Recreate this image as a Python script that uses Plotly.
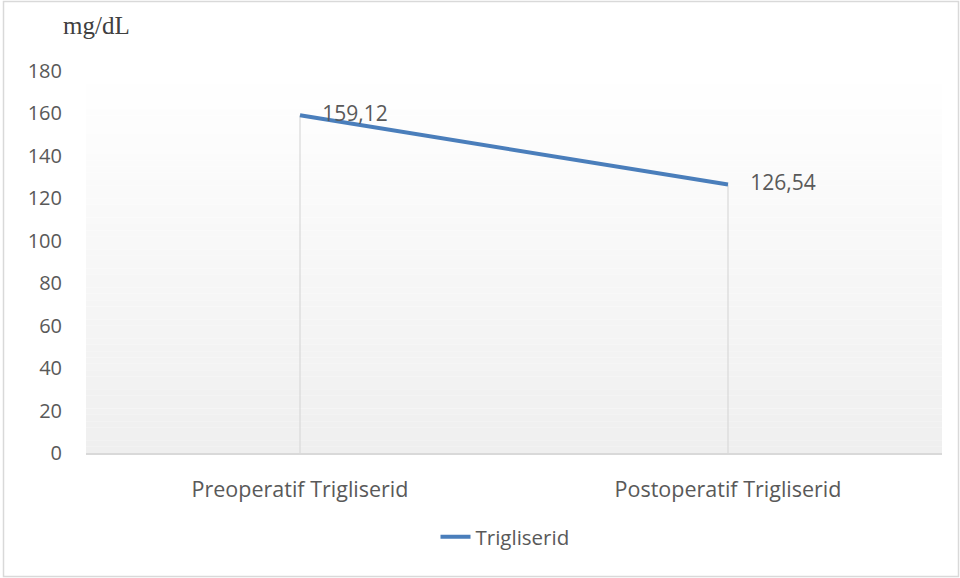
import plotly.graph_objects as go

categories = ["Preoperatif Trigliserid", "Postoperatif Trigliserid"]
values = [159.12, 126.54]
series_name = "Trigliserid"
y_ticks = [0, 20, 40, 60, 80, 100, 120, 140, 160, 180]

W, H = 960, 578
ML, MR, MT, MB = 86, 18, 71, 125
PW, PH = W - ML - MR, H - MT - MB

def px_x(px):
    return (px - ML) / PW

def px_y(py):
    return (H - MB - py) / PH

FONT = "Open Sans"
GREY = "#595959"

fig = go.Figure()
fig.add_trace(go.Scatter(
    x=categories, y=values, name=series_name,
    mode="lines+markers+text",
    line=dict(color="#4a7ebb", width=4),
    marker=dict(size=34, color="rgba(0,0,0,0)"),
    text=[f"{v:.2f}".replace(".", ",") for v in values],
    textposition="middle right",
    textfont=dict(family=FONT, size=21, color=GREY),
    error_y=dict(type="data", symmetric=False, array=[0] * len(values),
                 arrayminus=values, color="#d9d9d9", thickness=1.2, width=0),
    hoverinfo="skip",
))

shapes = []
n = 60
for i in range(n):
    t = i / (n - 1)
    c = int(round(255 - (255 - 239) * t))
    shapes.append(dict(type="rect", xref="x domain", yref="y domain",
                       x0=0, x1=1, y0=1 - (i + 1) / n, y1=1 - i / n,
                       fillcolor=f"rgb({c},{c},{c})", line=dict(width=0),
                       layer="below"))
shapes.append(dict(type="rect", xref="paper", yref="paper",
                   x0=px_x(3.5), x1=px_x(958.5), y0=px_y(576.5), y1=px_y(1.5),
                   line=dict(color="#d9d9d9", width=1.5), fillcolor="rgba(0,0,0,0)",
                   layer="below"))

fig.update_layout(
    width=W, height=H,
    margin=dict(l=ML, r=MR, t=MT, b=MB),
    paper_bgcolor="white", plot_bgcolor="rgba(0,0,0,0)",
    shapes=shapes,
    showlegend=True,
    legend=dict(orientation="h", x=px_x(505), xanchor="center", y=px_y(537), yanchor="middle",
                font=dict(family=FONT, size=20.5, color=GREY),
                bgcolor="rgba(0,0,0,0)"),
    xaxis=dict(type="category", range=[-0.5, 1.5], showgrid=False,
               showline=True, linecolor="#d9d9d9", linewidth=1.5,
               ticks="", ticklabelstandoff=16,
               tickfont=dict(family=FONT, size=21.5, color=GREY), fixedrange=True),
    yaxis=dict(range=[0, 180], tickvals=y_ticks, showgrid=False, zeroline=False,
               showline=False, ticks="", ticklabelstandoff=23,
               tickfont=dict(family=FONT, size=20, color=GREY), fixedrange=True),
    annotations=[dict(text="mg/dL", xref="paper", yref="paper", x=px_x(61), y=px_y(26),
                      xanchor="left", yanchor="middle", showarrow=False,
                      font=dict(family="Liberation Serif", size=25, color="#404040"))],
)

fig.write_html("out.html", config={"displayModeBar": False},
               post_script="document.body.style.margin='0';document.body.style.overflow='hidden';")
